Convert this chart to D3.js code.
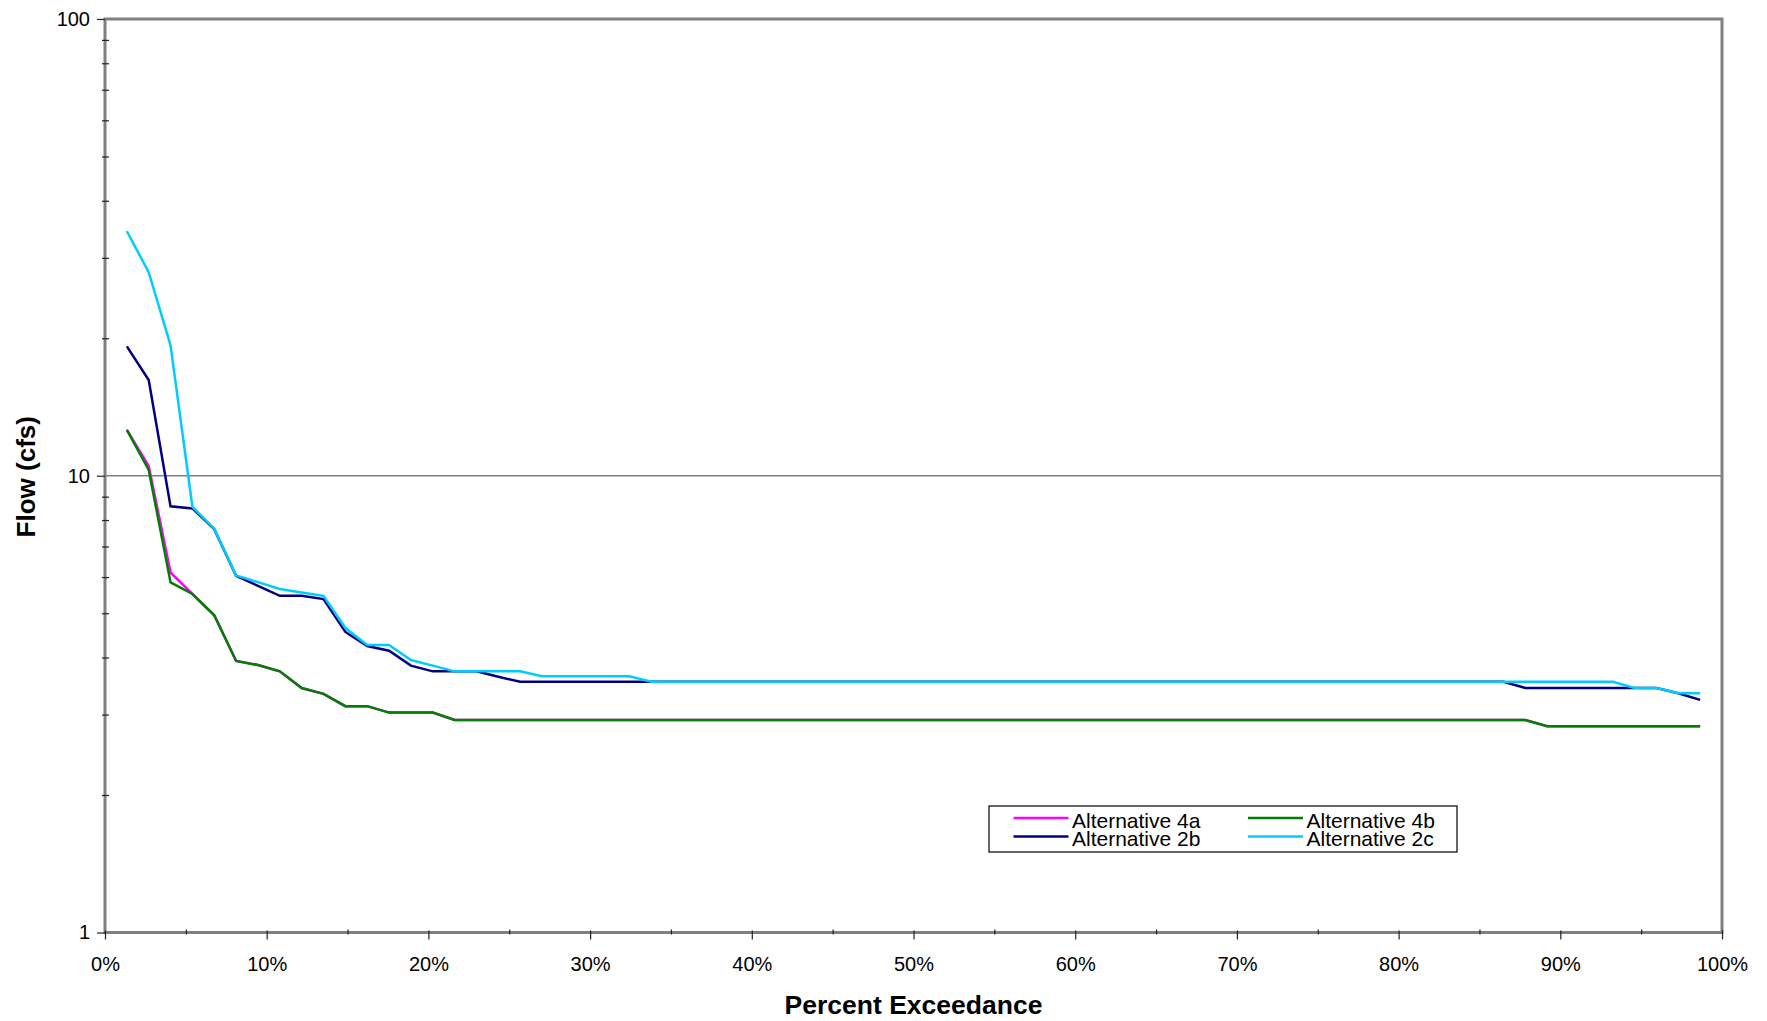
<!DOCTYPE html>
<html>
<head>
<meta charset="utf-8">
<script src="https://cdn.jsdelivr.net/npm/d3@7"></script>
<style>
  html, body { margin: 0; padding: 0; background: #fff; }
  svg { display: block; font-family: "Liberation Sans", Arial, sans-serif; }
</style>
</head>
<body>
<svg id="chart" width="1767" height="1021"></svg>
<script>
// ---- Data ----
const exceedance = [
  1.351, 2.703, 4.054, 5.405, 6.757, 8.108, 9.459, 10.811, 12.162, 13.514,
  14.865, 16.216, 17.568, 18.919, 20.270, 21.622, 22.973, 24.324, 25.676, 27.027,
  28.378, 29.730, 31.081, 32.432, 33.784, 35.135, 36.486, 37.838, 39.189, 40.541,
  41.892, 43.243, 44.595, 45.946, 47.297, 48.649, 50.000, 51.351, 52.703, 54.054,
  55.405, 56.757, 58.108, 59.459, 60.811, 62.162, 63.514, 64.865, 66.216, 67.568,
  68.919, 70.270, 71.622, 72.973, 74.324, 75.676, 77.027, 78.378, 79.730, 81.081,
  82.432, 83.784, 85.135, 86.486, 87.838, 89.189, 90.541, 91.892, 93.243, 94.595,
  95.946, 97.297, 98.649
];

const alt4a = [
  12.6, 10.5, 6.14, 5.51, 4.95, 3.93, 3.85, 3.73, 3.43, 3.33,
  3.13, 3.13, 3.03, 3.03, 3.03, 2.92, 2.92, 2.92, 2.92, 2.92,
  2.92, 2.92, 2.92, 2.92, 2.92, 2.92, 2.92, 2.92, 2.92, 2.92,
  2.92, 2.92, 2.92, 2.92, 2.92, 2.92, 2.92, 2.92, 2.92, 2.92,
  2.92, 2.92, 2.92, 2.92, 2.92, 2.92, 2.92, 2.92, 2.92, 2.92,
  2.92, 2.92, 2.92, 2.92, 2.92, 2.92, 2.92, 2.92, 2.92, 2.92,
  2.92, 2.92, 2.92, 2.92, 2.92, 2.83, 2.83, 2.83, 2.83, 2.83,
  2.83, 2.83, 2.83
];

const alt4b = [
  12.6, 10.3, 5.84, 5.51, 4.95, 3.93, 3.85, 3.73, 3.43, 3.33,
  3.13, 3.13, 3.03, 3.03, 3.03, 2.92, 2.92, 2.92, 2.92, 2.92,
  2.92, 2.92, 2.92, 2.92, 2.92, 2.92, 2.92, 2.92, 2.92, 2.92,
  2.92, 2.92, 2.92, 2.92, 2.92, 2.92, 2.92, 2.92, 2.92, 2.92,
  2.92, 2.92, 2.92, 2.92, 2.92, 2.92, 2.92, 2.92, 2.92, 2.92,
  2.92, 2.92, 2.92, 2.92, 2.92, 2.92, 2.92, 2.92, 2.92, 2.92,
  2.92, 2.92, 2.92, 2.92, 2.92, 2.83, 2.83, 2.83, 2.83, 2.83,
  2.83, 2.83, 2.83
];

const alt2b = [
  19.2, 16.2, 8.57, 8.48, 7.64, 6.04, 5.74, 5.46, 5.46, 5.37,
  4.55, 4.24, 4.14, 3.84, 3.73, 3.73, 3.73, 3.63, 3.54, 3.54,
  3.54, 3.54, 3.54, 3.54, 3.54, 3.54, 3.54, 3.54, 3.54, 3.54,
  3.54, 3.54, 3.54, 3.54, 3.54, 3.54, 3.54, 3.54, 3.54, 3.54,
  3.54, 3.54, 3.54, 3.54, 3.54, 3.54, 3.54, 3.54, 3.54, 3.54,
  3.54, 3.54, 3.54, 3.54, 3.54, 3.54, 3.54, 3.54, 3.54, 3.54,
  3.54, 3.54, 3.54, 3.54, 3.43, 3.43, 3.43, 3.43, 3.43, 3.43,
  3.43, 3.34, 3.23
];

const alt2c = [
  34.3, 27.9, 19.3, 8.55, 7.66, 6.05, 5.85, 5.65, 5.55, 5.46,
  4.64, 4.26, 4.26, 3.95, 3.84, 3.73, 3.73, 3.73, 3.73, 3.64,
  3.64, 3.64, 3.64, 3.64, 3.54, 3.54, 3.54, 3.54, 3.54, 3.54,
  3.54, 3.54, 3.54, 3.54, 3.54, 3.54, 3.54, 3.54, 3.54, 3.54,
  3.54, 3.54, 3.54, 3.54, 3.54, 3.54, 3.54, 3.54, 3.54, 3.54,
  3.54, 3.54, 3.54, 3.54, 3.54, 3.54, 3.54, 3.54, 3.54, 3.54,
  3.54, 3.54, 3.54, 3.54, 3.54, 3.54, 3.54, 3.54, 3.54, 3.43,
  3.43, 3.34, 3.34
];

const seriesNames = ["Alternative 4a", "Alternative 4b", "Alternative 2b", "Alternative 2c"];
const seriesColors = ["#ff00ff", "#008000", "#000080", "#00ccff"];
const seriesValues = [alt4a, alt4b, alt2b, alt2c];

const yMajorTicks = [1, 10, 100];
const yMinorTicks = [2, 3, 4, 5, 6, 7, 8, 9, 20, 30, 40, 50, 60, 70, 80, 90];
const xMajorTicks = [0, 10, 20, 30, 40, 50, 60, 70, 80, 90, 100];
const xMinorTicks = [5, 15, 25, 35, 45, 55, 65, 75, 85, 95];

const xTitle = "Percent Exceedance";
const yTitle = "Flow (cfs)";

// ---- Layout ----
const L = 105, R = 1722, T = 19, B = 932.5;
const svg = d3.select("#chart");

const x = d3.scaleLinear().domain([0, 100]).range([L, R]);
const y = d3.scaleLog().domain([1, 100]).range([B, T]);

// Gridline at 10
svg.append("g")
  .selectAll("line")
  .data([10])
  .join("line")
  .attr("x1", L).attr("x2", R)
  .attr("y1", d => y(d)).attr("y2", d => y(d))
  .attr("stroke", "#808080").attr("stroke-width", 1.3);

// Series lines
const line = d3.line()
  .x((d, i) => x(exceedance[i]))
  .y(d => y(d));

svg.append("g")
  .selectAll("path")
  .data(seriesValues)
  .join("path")
  .attr("d", d => line(d))
  .attr("fill", "none")
  .attr("stroke", (d, i) => seriesColors[i])
  .attr("stroke-width", 2.5)
  .attr("stroke-linejoin", "miter");

// Frame
svg.append("rect")
  .attr("x", L).attr("y", T)
  .attr("width", R - L).attr("height", B - T)
  .attr("fill", "none")
  .attr("stroke", "#808080")
  .attr("stroke-width", 3);

// Y axis (major with labels)
const yAxis = d3.axisLeft(y)
  .tickValues(yMajorTicks)
  .tickFormat(d3.format("d"))
  .tickSizeInner(8).tickSizeOuter(0).tickPadding(8);
const gy = svg.append("g").attr("transform", `translate(${L},0)`).call(yAxis);
gy.select(".domain").remove();
gy.selectAll(".tick line").attr("stroke", "#222").attr("stroke-width", 1.2);
gy.selectAll(".tick text")
  .attr("font-size", 20)
  .attr("fill", "#000")
  .attr("font-family", "'Liberation Sans', Arial, sans-serif")
  .attr("x", -15);

// Y minor ticks
const yMinor = d3.axisLeft(y).tickValues(yMinorTicks).tickFormat("").tickSizeInner(-4).tickSizeOuter(0);
const gym = svg.append("g").attr("transform", `translate(${L - 3},0)`).call(yMinor);
gym.select(".domain").remove();
gym.selectAll(".tick line").attr("stroke", "#222").attr("stroke-width", 1.2).attr("x1", 0).attr("x2", 7);

// X axis (major with labels)
const xAxis = d3.axisBottom(x)
  .tickValues(xMajorTicks)
  .tickFormat(d => d + "%")
  .tickSizeInner(9).tickSizeOuter(0).tickPadding(20);
const gx = svg.append("g").attr("transform", `translate(0,${B - 2})`).call(xAxis);
gx.select(".domain").remove();
gx.selectAll(".tick line").attr("stroke", "#222").attr("stroke-width", 1.2);
gx.selectAll(".tick text")
  .attr("font-size", 20)
  .attr("fill", "#000")
  .attr("font-family", "'Liberation Sans', Arial, sans-serif")
  .attr("dy", null)
  .attr("y", 40.5);

// X minor ticks
const xMinor = d3.axisBottom(x).tickValues(xMinorTicks).tickFormat("").tickSizeInner(5).tickSizeOuter(0);
const gxm = svg.append("g").attr("transform", `translate(0,${B - 3})`).call(xMinor);
gxm.select(".domain").remove();
gxm.selectAll(".tick line").attr("stroke", "#222").attr("stroke-width", 1.2);

// Axis titles
svg.append("text")
  .attr("x", (L + R) / 2).attr("y", 1014)
  .attr("text-anchor", "middle")
  .attr("font-size", 26.5).attr("font-weight", "bold")
  .attr("fill", "#000")
  .text(xTitle);

svg.append("text")
  .attr("transform", `translate(35,${(T + B) / 2 + 1}) rotate(-90)`)
  .attr("text-anchor", "middle")
  .attr("font-size", 26).attr("font-weight", "bold")
  .attr("fill", "#000")
  .text(yTitle);

// Legend
const lg = svg.append("g");
lg.append("rect")
  .attr("x", 989).attr("y", 806)
  .attr("width", 468).attr("height", 46)
  .attr("fill", "#fff")
  .attr("stroke", "#000").attr("stroke-width", 1.2);

const colX = [1013.5, 1248];
const rowY = [818, 836.5];
const items = lg.selectAll("g.item")
  .data(seriesNames)
  .join("g")
  .attr("class", "item")
  .attr("transform", (d, i) => `translate(${colX[i % 2]},${rowY[Math.floor(i / 2)]})`);
items.append("line")
  .attr("x1", 0).attr("x2", 55)
  .attr("y1", 0).attr("y2", 0)
  .attr("stroke", (d, i) => seriesColors[i])
  .attr("stroke-width", 2.6);
items.append("text")
  .attr("x", 58.5).attr("y", 9.7)
  .attr("font-size", 21)
  .attr("fill", "#000")
  .text(d => d);
</script>
</body>
</html>
